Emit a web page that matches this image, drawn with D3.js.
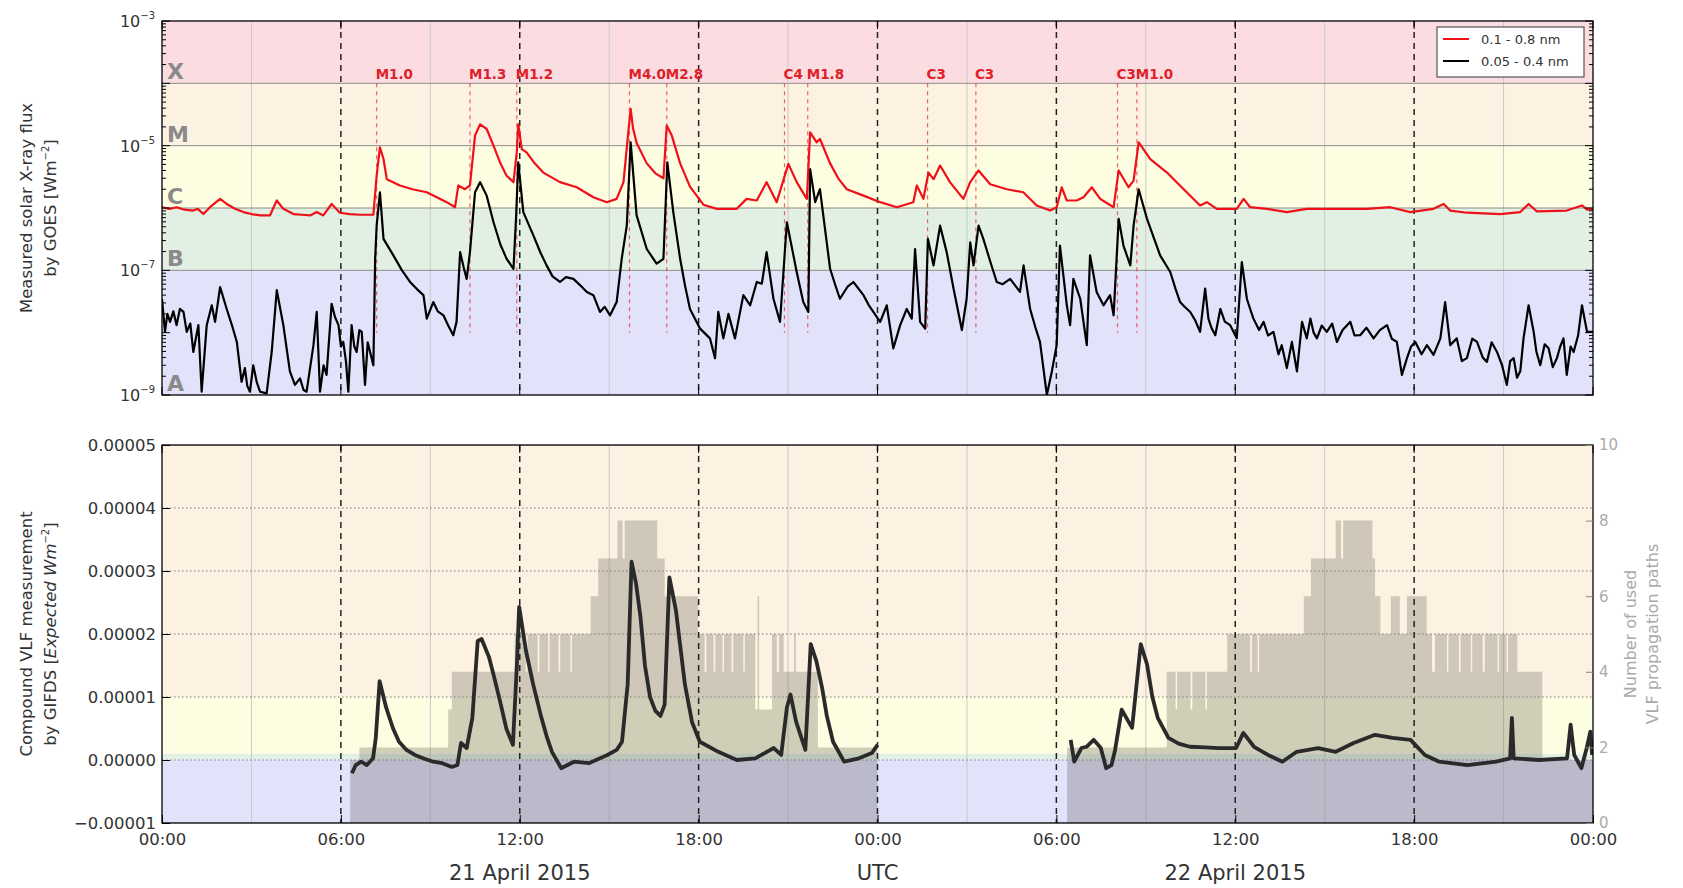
<!DOCTYPE html>
<html><head><meta charset="utf-8">
<script src="https://cdn.jsdelivr.net/npm/d3@7"></script>
<style>body{margin:0;background:#fff;} svg{display:block;} text{font-family:"DejaVu Sans",sans-serif;}</style>
</head><body><svg id="c" width="1683" height="888"></svg>
<script>
// ---------------- data ----------------
const hourTicks = [0,6,12,18,24,30,36,42,48];
const hourTickLabels = ["00:00","06:00","12:00","18:00","00:00","06:00","12:00","18:00","00:00"];
const dateLabelHours = [12,24,36];
const dateLabels = ["21 April 2015","UTC","22 April 2015"];
const gridHours = [3,9,15,21,27,33,39,45];
const dashedHours = [6,12,18,24,30,36,42];

const classNames = ["A","B","C","M","X"];
const classLower = [1e-9,1e-7,1e-6,1e-5,1e-4];
const classUpper = [1e-7,1e-6,1e-5,1e-4,1e-3];

const flareHours  = [7.2,10.33,11.9,15.68,16.93,20.88,21.66,25.68,27.3,32.05,32.7];
const flareLabels = ["M1.0","M1.3","M1.2","M4.0","M2.8","C4","M1.8","C3","C3","C3","M1.0"];

const seriesNames = ["0.1 - 0.8 nm","0.05 - 0.4 nm"];

// GOES 0.1-0.8 nm  [hour, W/m2]
const longChannel = [[0,1.03e-6],[0.25,9.7e-7],[0.49,1.03e-6],[0.75,9.4e-7],[1.05,9.1e-7],[1.2,9.7e-7],[1.39,8.0e-7],[1.61,1.03e-6],[1.95,1.40e-6],[2.17,1.16e-6],[2.45,9.7e-7],[2.73,8.6e-7],[3.0,8.0e-7],[3.29,7.6e-7],[3.62,7.6e-7],[3.85,1.32e-6],[4.07,9.7e-7],[4.41,8.0e-7],[4.7,7.8e-7],[4.97,7.6e-7],[5.19,8.6e-7],[5.41,7.6e-7],[5.69,1.16e-6],[5.97,8.4e-7],[6.3,8.0e-7],[6.64,7.8e-7],[7.09,7.8e-7],[7.2,3.3e-6],[7.31,9.4e-6],[7.43,6.1e-6],[7.54,2.9e-6],[7.98,2.3e-6],[8.4,2.0e-6],[8.88,1.79e-6],[9.2,1.5e-6],[9.55,1.24e-6],[9.83,1.03e-6],[9.94,2.3e-6],[10.16,2.0e-6],[10.33,2.3e-6],[10.5,1.45e-5],[10.67,2.2e-5],[10.89,1.85e-5],[11.12,1.0e-5],[11.35,5.2e-6],[11.56,3.3e-6],[11.79,2.6e-6],[11.9,7.8e-6],[11.95,2.2e-5],[12.07,8.8e-6],[12.23,7.8e-6],[12.5,5.2e-6],[12.79,3.7e-6],[13.35,2.6e-6],[13.91,2.15e-6],[14.47,1.49e-6],[14.92,1.24e-6],[15.25,1.40e-6],[15.48,2.6e-6],[15.64,1.63e-5],[15.72,3.9e-5],[15.8,1.9e-5],[15.92,1.1e-5],[16.26,5.2e-6],[16.55,3.6e-6],[16.82,3.0e-6],[16.93,2.1e-5],[17.1,1.45e-5],[17.38,5.2e-6],[17.71,2.2e-6],[18.16,1.13e-6],[18.61,9.7e-7],[19.28,9.7e-7],[19.61,1.40e-6],[19.95,1.32e-6],[20.28,2.6e-6],[20.62,1.24e-6],[21.01,5.1e-6],[21.29,2.6e-6],[21.63,1.40e-6],[21.74,1.63e-5],[21.96,1.13e-5],[22.07,1.28e-5],[22.41,5.2e-6],[22.7,2.9e-6],[22.97,2.0e-6],[23.53,1.58e-6],[24.09,1.24e-6],[24.65,1.03e-6],[25.2,1.24e-6],[25.32,2.3e-6],[25.54,1.40e-6],[25.71,3.7e-6],[25.88,2.9e-6],[26.1,4.8e-6],[26.43,2.6e-6],[26.88,1.40e-6],[27.11,2.6e-6],[27.39,4.0e-6],[27.78,2.4e-6],[28.34,2.0e-6],[28.89,1.79e-6],[29.34,1.10e-6],[29.79,9.1e-7],[30.01,1.03e-6],[30.18,2.15e-6],[30.35,1.32e-6],[30.68,1.32e-6],[30.91,1.49e-6],[31.19,2.15e-6],[31.47,1.40e-6],[31.92,1.03e-6],[32.09,4.0e-6],[32.42,2.15e-6],[32.59,2.75e-6],[32.76,1.13e-5],[33.15,6.1e-6],[33.71,3.7e-6],[34.27,2.0e-6],[34.82,1.10e-6],[35.05,1.24e-6],[35.38,9.7e-7],[36.05,9.7e-7],[36.28,1.40e-6],[36.5,1.03e-6],[37.06,9.7e-7],[37.73,8.6e-7],[38.4,9.7e-7],[39.3,9.7e-7],[40.42,9.7e-7],[41.2,1.03e-6],[41.87,8.6e-7],[42.65,9.7e-7],[42.99,1.16e-6],[43.21,9.1e-7],[43.77,8.4e-7],[44.89,8.0e-7],[45.56,8.6e-7],[45.84,1.16e-6],[46.12,8.8e-7],[47.12,9.1e-7],[47.63,1.10e-6],[47.8,9.4e-7],[48,9.7e-7]];

// GOES 0.05-0.4 nm  [hour, W/m2]
const shortChannel = [[0,3.5e-8],[0.10,1.03e-8],[0.18,2.0e-8],[0.27,1.49e-8],[0.38,2.2e-8],[0.49,1.32e-8],[0.6,2.4e-8],[0.72,2.15e-8],[0.83,1.03e-8],[0.95,1.4e-8],[1.05,4.9e-9],[1.22,1.32e-8],[1.33,1.13e-9],[1.5,1.32e-8],[1.67,2.75e-8],[1.78,1.49e-8],[1.95,5.4e-8],[2.17,2.4e-8],[2.35,1.3e-8],[2.51,7.1e-9],[2.67,1.63e-9],[2.78,2.7e-9],[2.86,1.4e-9],[2.95,1.13e-9],[3.06,3.0e-9],[3.18,1.6e-9],[3.29,1.13e-9],[3.51,1.06e-9],[3.68,4.9e-9],[3.85,4.8e-8],[4.07,1.32e-8],[4.29,2.4e-9],[4.46,1.45e-9],[4.63,1.85e-9],[4.75,1.2e-9],[4.85,1.13e-9],[5.08,6.3e-9],[5.19,2.15e-8],[5.3,1.13e-9],[5.42,3.0e-9],[5.52,2.1e-9],[5.69,2.9e-8],[5.8,1.8e-8],[5.92,1.32e-8],[6.0,6.0e-9],[6.08,7.1e-9],[6.17,3.5e-9],[6.25,1.13e-9],[6.36,1.32e-8],[6.45,6.0e-9],[6.53,4.9e-9],[6.62,1.1e-8],[6.7,1.03e-8],[6.81,1.45e-9],[6.9,7.0e-9],[6.98,4.9e-9],[7.09,3.0e-9],[7.15,1.53e-7],[7.2,5.2e-7],[7.31,1.79e-6],[7.43,3.2e-7],[7.76,1.74e-7],[8.05,1.0e-7],[8.32,6.5e-8],[8.55,5.0e-8],[8.77,4.0e-8],[8.88,1.68e-8],[9.1,3.1e-8],[9.25,2.2e-8],[9.44,1.9e-8],[9.6,1.3e-8],[9.77,9.1e-9],[9.88,1.49e-8],[10.0,1.96e-7],[10.13,1.06e-7],[10.22,7.3e-8],[10.33,1.96e-7],[10.5,1.79e-6],[10.67,2.6e-6],[10.89,1.58e-6],[11.12,5.9e-7],[11.35,2.6e-7],[11.56,1.53e-7],[11.79,1.06e-7],[11.88,7.6e-7],[11.95,5.4e-6],[12.12,8.6e-7],[12.46,3.6e-7],[12.7,1.9e-7],[12.9,1.2e-7],[13.1,8.0e-8],[13.35,6.5e-8],[13.55,7.8e-8],[13.8,7.3e-8],[14.02,5.8e-8],[14.25,4.5e-8],[14.47,4.0e-8],[14.69,2.15e-8],[14.85,2.6e-8],[15.03,1.9e-8],[15.25,3.1e-8],[15.42,1.53e-7],[15.59,5.2e-7],[15.72,1.13e-5],[15.92,7.6e-7],[16.26,2.2e-7],[16.59,1.28e-7],[16.82,1.53e-7],[16.95,5.4e-6],[17.15,8.6e-7],[17.38,1.53e-7],[17.55,5.5e-8],[17.71,2.4e-8],[18.05,1.16e-8],[18.38,8.1e-9],[18.55,3.9e-9],[18.66,2.15e-8],[18.83,8.1e-9],[19.0,2.0e-8],[19.22,8.1e-9],[19.5,4.0e-8],[19.73,2.75e-8],[19.95,6.5e-8],[20.12,6.1e-8],[20.28,1.96e-7],[20.51,3.5e-8],[20.73,1.49e-8],[20.96,5.9e-7],[21.29,9.4e-8],[21.51,3.1e-8],[21.68,2.15e-8],[21.74,4.2e-6],[21.91,1.24e-6],[22.07,2.0e-6],[22.41,1.06e-7],[22.6,5.5e-8],[22.74,3.5e-8],[23.0,5.5e-8],[23.19,6.5e-8],[23.53,4.0e-8],[23.7,2.8e-8],[23.86,2.15e-8],[24.09,1.49e-8],[24.31,2.75e-8],[24.53,5.6e-9],[24.76,1.32e-8],[24.98,2.4e-8],[25.15,1.68e-8],[25.26,2.2e-7],[25.43,1.49e-8],[25.6,1.16e-8],[25.69,3.2e-7],[25.88,1.2e-7],[26.1,5.2e-7],[26.32,1.96e-7],[26.55,5.1e-8],[26.83,1.1e-8],[26.99,3.5e-8],[27.11,2.8e-7],[27.22,1.2e-7],[27.39,5.2e-7],[27.55,3.2e-7],[27.8,1.3e-7],[28.0,6.5e-8],[28.2,6.0e-8],[28.45,7.3e-8],[28.78,4.5e-8],[28.9,1.2e-7],[29.12,2.4e-8],[29.3,1.2e-8],[29.45,7.1e-9],[29.68,1.0e-9],[29.85,2.4e-9],[30.01,6.3e-9],[30.12,2.5e-7],[30.35,2.75e-8],[30.46,1.32e-8],[30.57,7.3e-8],[30.8,3.5e-8],[31.02,6.3e-9],[31.13,1.74e-7],[31.35,4.5e-8],[31.58,2.75e-8],[31.8,4.0e-8],[31.92,1.9e-8],[32.09,6.7e-7],[32.25,2.5e-7],[32.48,1.2e-7],[32.59,5.2e-7],[32.76,2.0e-6],[33.04,6.7e-7],[33.48,1.74e-7],[33.82,9.4e-8],[34.0,5.0e-8],[34.15,3.1e-8],[34.3,2.6e-8],[34.49,2.15e-8],[34.65,1.6e-8],[34.82,1.03e-8],[34.99,5.1e-8],[35.1,1.68e-8],[35.2,1.2e-8],[35.33,9.1e-9],[35.5,2.4e-8],[35.65,1.5e-8],[35.83,1.32e-8],[36.05,8.1e-9],[36.22,1.36e-7],[36.39,3.5e-8],[36.5,2.4e-8],[36.61,1.68e-8],[36.8,1.1e-8],[36.95,1.49e-8],[37.1,9.0e-9],[37.28,1.03e-8],[37.45,4.5e-9],[37.56,6.3e-9],[37.73,2.7e-9],[37.9,7.1e-9],[38.07,2.4e-9],[38.24,1.49e-8],[38.4,8.1e-9],[38.52,1.68e-8],[38.63,1.0e-8],[38.74,8.1e-9],[38.9,1.3e-8],[39.07,1.03e-8],[39.25,1.4e-8],[39.41,7.1e-9],[39.6,1.1e-8],[39.86,1.49e-8],[40.0,9.0e-9],[40.19,9.1e-9],[40.4,1.2e-8],[40.64,8.1e-9],[40.85,1.1e-8],[41.09,1.32e-8],[41.25,8.0e-9],[41.42,7.1e-9],[41.59,2.1e-9],[41.76,3.9e-9],[41.9,6.0e-9],[42.04,7.1e-9],[42.25,4.5e-9],[42.43,6.3e-9],[42.65,4.4e-9],[42.88,8.1e-9],[43.04,3.1e-8],[43.21,6.3e-9],[43.43,8.1e-9],[43.6,3.5e-9],[43.77,3.9e-9],[43.95,8.0e-9],[44.11,7.1e-9],[44.3,4.0e-9],[44.44,3.4e-9],[44.6,7.0e-9],[44.78,4.9e-9],[44.95,3.0e-9],[45.11,1.45e-9],[45.22,3.5e-9],[45.34,3.9e-9],[45.45,1.9e-9],[45.56,2.4e-9],[45.67,8.1e-9],[45.84,2.75e-8],[46.01,1.03e-8],[46.1,5.0e-9],[46.23,3.0e-9],[46.38,6.5e-9],[46.51,5.6e-9],[46.65,2.8e-9],[46.79,3.9e-9],[46.9,6.0e-9],[47.01,8.1e-9],[47.12,2.1e-9],[47.25,6.0e-9],[47.35,4.9e-9],[47.5,9.0e-9],[47.63,2.75e-8],[47.8,1.03e-8],[48,1.03e-8]];

// GIFDS compound VLF measurement [hour, expected W/m2] (null = gap)
const vlfChannel = [[6.37,-2.1e-6],[6.5,-8e-7],[6.68,-2.7e-7],[6.87,-8e-7],[7.08,2.7e-7],[7.17,3.5e-6],[7.3,1.25e-5],[7.52,8.3e-6],[7.75,5.0e-6],[7.95,2.9e-6],[8.2,1.6e-6],[8.48,8e-7],[8.8,2.0e-7],[9.1,-2.7e-7],[9.4,-5e-7],[9.72,-1.1e-6],[9.91,-8e-7],[10.03,2.7e-6],[10.22,1.9e-6],[10.41,6.7e-6],[10.59,1.89e-5],[10.72,1.92e-5],[10.97,1.63e-5],[11.15,1.3e-5],[11.34,9.3e-6],[11.55,5.0e-6],[11.77,2.4e-6],[11.9,1.47e-5],[11.98,2.43e-5],[12.21,1.73e-5],[12.45,1.2e-5],[12.7,7.2e-6],[12.9,3.8e-6],[13.08,1.3e-6],[13.39,-1.3e-6],[13.82,-2.7e-7],[14.32,-5e-7],[14.94,8e-7],[15.25,1.6e-6],[15.43,2.9e-6],[15.62,1.2e-5],[15.75,3.15e-5],[15.9,2.8e-5],[16.05,2.27e-5],[16.2,1.5e-5],[16.37,1.0e-5],[16.55,7.8e-6],[16.72,7.0e-6],[16.86,8.8e-6],[17.02,2.9e-5],[17.24,2.37e-5],[17.54,1.2e-5],[17.78,6.0e-6],[18.04,2.9e-6],[18.66,1.3e-6],[19.28,0],[19.9,2.7e-7],[20.52,1.9e-6],[20.77,8e-7],[20.96,8.3e-6],[21.08,1.04e-5],[21.27,6.1e-6],[21.58,1.6e-6],[21.76,1.84e-5],[21.95,1.57e-5],[22.14,1.15e-5],[22.3,7.0e-6],[22.51,2.9e-6],[22.88,-2.7e-7],[23.38,2.7e-7],[23.81,1.1e-6],[24.0,2.4e-6],[24.0,null],
[30.48,3.2e-6],[30.6,-2.7e-7],[30.84,1.9e-6],[31.01,2.1e-6],[31.25,3.2e-6],[31.49,1.9e-6],[31.67,-1.3e-6],[31.85,-8e-7],[31.97,1.6e-6],[32.19,8e-6],[32.54,5.1e-6],[32.83,1.84e-5],[33.04,1.52e-5],[33.22,1.0e-5],[33.4,6.7e-6],[33.76,3.5e-6],[34.1,2.6e-6],[34.48,2.1e-6],[35.0,2.0e-6],[35.43,1.9e-6],[36.03,1.9e-6],[36.27,4.3e-6],[36.63,2.1e-6],[37.1,8e-7],[37.58,-2.7e-7],[38.06,1.3e-6],[38.78,1.9e-6],[39.37,1.3e-6],[39.97,2.7e-6],[40.69,4e-6],[41.28,3.5e-6],[41.88,3.2e-6],[42.36,8e-7],[42.84,-2.7e-7],[43.79,-8e-7],[44.75,-2.7e-7],[45.22,2.7e-7],[45.28,6.7e-6],[45.34,2.7e-7],[46.18,0],[47.13,2.7e-7],[47.25,5.6e-6],[47.37,8e-7],[47.61,-1.3e-6],[47.79,1.9e-6],[47.91,4.5e-6],[47.97,8e-7]];

// number of used VLF propagation paths [hour, count] (step, null = gap)
const pathCount = [[6.62,2],[9.6,3],[9.72,4],[11.83,5],[12.2,4],[12.26,5],[12.6,4],[12.66,5],[12.95,4],[13.0,5],[13.3,4],[13.36,5],[13.7,4],[13.75,5],[14.38,6],[14.63,7],[15.28,8],[15.45,7],[15.52,8],[16.61,7],[16.86,6],[17.98,5],[18.2,4],[18.26,5],[18.5,4],[18.56,5],[18.8,4],[18.85,5],[19.1,4],[19.16,5],[19.5,4],[19.55,5],[19.9,3],[19.98,6],[20.03,3],[20.46,5],[20.62,4],[20.7,5],[20.85,4],[21.2,5],[21.26,4],[22.0,2],[24.0,2],[24.0,null],
[30.36,2],[33.7,4],[34.0,3],[34.05,4],[34.5,3],[34.56,4],[35.0,3],[35.05,4],[35.73,5],[36.5,4],[36.56,5],[36.75,4],[36.8,5],[38.3,6],[38.54,7],[39.37,8],[39.55,7],[39.62,8],[40.6,7],[40.69,6],[40.87,5],[41.22,6],[41.52,5],[41.76,6],[42.42,5],[42.6,4],[42.7,5],[43.1,4],[43.15,5],[43.5,4],[43.56,5],[43.9,4],[43.95,5],[44.3,4],[44.37,5],[44.8,4],[44.85,5],[45.1,4],[45.15,5],[45.46,4],[46.3,4],[46.3,null]];

// periods with VLF data available [start hour, end hour]
const vlfAvailable = [[6.31,24.0],[30.36,48.0]];

const vlfTicks = [-1e-5,0,1e-5,2e-5,3e-5,4e-5,5e-5];
const countTicks = [0,2,4,6,8,10];

// ---------------- styles ----------------
const classColorsTop = ["#e2e2fa","#e1f0e3","#fdfde1","#fdf1e1","#fbdde1"];
const FONT = '"DejaVu Sans", sans-serif';

// ---------------- drawing ----------------
const svg = d3.select("#c");
const L = 162, R = 1593, T1 = 21, B1 = 395, T2 = 445, B2 = 823;
const x = d3.scaleLinear().domain([0,48]).range([L,R]);
const yTop = d3.scaleLog().domain([1e-9,1e-3]).range([B1,T1]);
const yBot = d3.scaleLinear().domain([-1e-5,5e-5]).range([B2,T2]).clamp(true);
const yCnt = d3.scaleLinear().domain([0,10]).range([B2,T2]);

const defs = svg.append("defs");
defs.append("clipPath").attr("id","clipTop").append("rect").attr("x",L).attr("y",T1).attr("width",R-L).attr("height",B1-T1);
defs.append("clipPath").attr("id","clipBot").append("rect").attr("x",L).attr("y",T2).attr("width",R-L).attr("height",B2-T2);

// ===== TOP PANEL =====
const gT = svg.append("g").attr("clip-path","url(#clipTop)");
gT.selectAll("rect.band").data(d3.range(5)).join("rect").attr("class","band")
  .attr("x",L).attr("width",R-L)
  .attr("y",i=>yTop(classUpper[i])).attr("height",i=>yTop(classLower[i])-yTop(classUpper[i]))
  .attr("fill",i=>classColorsTop[i]);
gT.selectAll("line.vg").data(gridHours).join("line").attr("class","vg")
  .attr("x1",d=>x(d)).attr("x2",d=>x(d)).attr("y1",T1).attr("y2",B1)
  .attr("stroke","#c9c9c9").attr("stroke-width",1);
gT.selectAll("line.hb").data(classLower.slice(1)).join("line").attr("class","hb")
  .attr("x1",L).attr("x2",R).attr("y1",d=>yTop(d)).attr("y2",d=>yTop(d))
  .attr("stroke","#8c8c8c").attr("stroke-width",1);
gT.selectAll("line.dh").data(dashedHours).join("line").attr("class","dh")
  .attr("x1",d=>x(d)).attr("x2",d=>x(d)).attr("y1",T1).attr("y2",B1)
  .attr("stroke","#222").attr("stroke-width",1.5).attr("stroke-dasharray","6,5");
gT.selectAll("line.fl").data(flareHours).join("line").attr("class","fl")
  .attr("x1",d=>x(d)).attr("x2",d=>x(d)).attr("y1",yTop(1e-4)).attr("y2",yTop(1e-8))
  .attr("stroke","#e8303a").attr("stroke-opacity",0.75).attr("stroke-width",1.2).attr("stroke-dasharray","4,4");
gT.selectAll("text.cl").data(d3.range(5)).join("text").attr("class","cl")
  .attr("x",L+5).attr("y",i=>yTop(classLower[i])-4)
  .attr("font-size",22).attr("font-weight","bold").attr("fill","#8a8a8a").text(i=>classNames[i]);

const lineTop = d3.line().x(d=>x(d[0])).y(d=>yTop(d[1]));
gT.append("path").datum(shortChannel).attr("d",lineTop).attr("fill","none").attr("stroke","#000").attr("stroke-width",2.2).attr("stroke-linejoin","round");
gT.append("path").datum(longChannel).attr("d",lineTop).attr("fill","none").attr("stroke","#f0101a").attr("stroke-width",2.2).attr("stroke-linejoin","round");

svg.append("g").selectAll("text.fll").data(flareHours).join("text").attr("class","fll")
  .attr("x",d=>x(d)-1).attr("y",yTop(1e-4)-4)
  .attr("font-size",13.5).attr("font-weight","bold").attr("fill","#e0202a")
  .text((d,i)=>flareLabels[i]);

// legend
const lg = svg.append("g");
lg.append("rect").attr("x",1437).attr("y",27).attr("width",147).attr("height",50).attr("fill","#fff").attr("stroke","#555").attr("stroke-width",1.2);
[["#f0101a",39],["#000",61]].forEach((s,i)=>{
  lg.append("line").attr("x1",1443).attr("x2",1469).attr("y1",s[1]).attr("y2",s[1]).attr("stroke",s[0]).attr("stroke-width",2);
  lg.append("text").attr("x",1481).attr("y",s[1]+5).attr("font-size",13).attr("fill","#333").text(seriesNames[i]);
});

// top axes
const majorDec = d3.range(-9,-2).map(e=>Math.pow(10,e));
const minorDec = [];
d3.range(-9,-3).forEach(e=>{for(let m=2;m<=9;m++) minorDec.push(m*Math.pow(10,e));});
function frameTicks(g, sc, vals, len, side){
  g.selectAll(null).data(vals).join("line")
    .attr("x1", side==="l"?L:R).attr("x2", side==="l"?L+len:R-len)
    .attr("y1",d=>sc(d)).attr("y2",d=>sc(d)).attr("stroke","#000").attr("stroke-width",1);
}
const axT = svg.append("g");
frameTicks(axT,yTop,majorDec,8,"l"); frameTicks(axT,yTop,majorDec,8,"r");
frameTicks(axT,yTop,minorDec,4,"l"); frameTicks(axT,yTop,minorDec,4,"r");
axT.selectAll("line.xt").data(hourTicks).join("line").attr("class","xt")
  .attr("x1",d=>x(d)).attr("x2",d=>x(d)).attr("y1",B1).attr("y2",B1-8).attr("stroke","#000");
axT.selectAll("line.xt2").data(hourTicks).join("line").attr("class","xt2")
  .attr("x1",d=>x(d)).attr("x2",d=>x(d)).attr("y1",T1).attr("y2",T1+8).attr("stroke","#000");
const labDec = [-3,-5,-7,-9];
labDec.forEach(e=>{
  const t = axT.append("text").attr("x",L-7).attr("y",yTop(Math.pow(10,e))+6).attr("text-anchor","end").attr("fill","#333");
  t.append("tspan").attr("font-size",16).text("10");
  t.append("tspan").attr("font-size",10).attr("dy",-8).text("\u2212"+Math.abs(e));
});
svg.append("rect").attr("x",L).attr("y",T1).attr("width",R-L).attr("height",B1-T1).attr("fill","none").attr("stroke","#000").attr("stroke-width",1.3);

const tt = svg.append("g").attr("transform",`translate(32,${(T1+B1)/2}) rotate(-90)`);
tt.append("text").attr("text-anchor","middle").attr("font-size",16.5).attr("fill","#333").text("Measured solar X-ray flux");
const tt2 = svg.append("g").attr("transform",`translate(56,${(T1+B1)/2}) rotate(-90)`).append("text").attr("text-anchor","middle").attr("font-size",16.5).attr("fill","#333");
tt2.append("tspan").text("by GOES [Wm");
tt2.append("tspan").attr("font-size",10).attr("dy",-7).text("\u22122");
tt2.append("tspan").attr("dy",7).text("]");

// ===== BOTTOM PANEL =====
const gB = svg.append("g").attr("clip-path","url(#clipBot)");
gB.selectAll("rect.band").data(d3.range(5)).join("rect").attr("class","band")
  .attr("x",L).attr("width",R-L)
  .attr("y",i=>yBot(classUpper[i]))
  .attr("height",i=>(i===0?yBot(-1):yBot(classLower[i]))-yBot(classUpper[i]))
  .attr("fill",i=>classColorsTop[i]);
gB.selectAll("line.vg").data(gridHours).join("line").attr("class","vg")
  .attr("x1",d=>x(d)).attr("x2",d=>x(d)).attr("y1",T2).attr("y2",B2)
  .attr("stroke","#c9c9c9").attr("stroke-width",1);
gB.selectAll("rect.av").data(vlfAvailable).join("rect").attr("class","av")
  .attr("x",d=>x(d[0])).attr("width",d=>x(d[1])-x(d[0]))
  .attr("y",yBot(0)).attr("height",B2-yBot(0))
  .attr("fill","#6a6a6a").attr("fill-opacity",0.33);
const cntArea = d3.area().defined(d=>d[1]!==null).curve(d3.curveStepAfter)
  .x(d=>x(d[0])).y0(yBot(0)).y1(d=>yCnt(d[1]));
gB.append("path").datum(pathCount).attr("d",cntArea).attr("fill","#77776d").attr("fill-opacity",0.35);
gB.selectAll("line.hg").data(vlfTicks).join("line").attr("class","hg")
  .attr("x1",L).attr("x2",R).attr("y1",d=>yBot(d)).attr("y2",d=>yBot(d))
  .attr("stroke","#777").attr("stroke-width",1).attr("stroke-dasharray","1.5,2.5");
gB.selectAll("line.dh").data(dashedHours).join("line").attr("class","dh")
  .attr("x1",d=>x(d)).attr("x2",d=>x(d)).attr("y1",T2).attr("y2",B2)
  .attr("stroke","#222").attr("stroke-width",1.5).attr("stroke-dasharray","6,5");
const vlfLine = d3.line().defined(d=>d[1]!==null).x(d=>x(d[0])).y(d=>yBot(d[1]));
gB.append("path").datum(vlfChannel).attr("d",vlfLine).attr("fill","none").attr("stroke","#2a2a2a").attr("stroke-width",3.8).attr("stroke-linejoin","round");

svg.append("rect").attr("x",L).attr("y",T2).attr("width",R-L).attr("height",B2-T2).attr("fill","none").attr("stroke","#000").attr("stroke-width",1.3);

const axL = d3.axisLeft(yBot).tickValues(vlfTicks).tickFormat(d3.format(".5f")).tickSizeInner(-8).tickSizeOuter(0).tickPadding(6);
const gl = svg.append("g").attr("transform",`translate(${L},0)`).call(axL);
gl.select(".domain").remove();
gl.selectAll("text").attr("font-size",16.5).attr("fill","#333").attr("font-family",FONT);
const axR = d3.axisRight(yCnt).tickValues(countTicks).tickFormat(d3.format("d")).tickSizeInner(-7).tickSizeOuter(0).tickPadding(6);
const gr = svg.append("g").attr("transform",`translate(${R},0)`).call(axR);
gr.select(".domain").remove();
gr.selectAll("line").attr("stroke","#888");
gr.selectAll("text").attr("font-size",15).attr("fill","#aaa").attr("font-family",FONT);
const axB = d3.axisBottom(x).tickValues(hourTicks).tickFormat((d,i)=>hourTickLabels[i]).tickSizeInner(-8).tickSizeOuter(0).tickPadding(10);
const gb = svg.append("g").attr("transform",`translate(0,${B2})`).call(axB);
gb.select(".domain").remove();
gb.selectAll("text").attr("font-size",16.5).attr("fill","#333").attr("font-family",FONT);
svg.append("g").selectAll("line").data(hourTicks).join("line")
  .attr("x1",d=>x(d)).attr("x2",d=>x(d)).attr("y1",T2).attr("y2",T2+8).attr("stroke","#000");
svg.append("g").selectAll("text").data(dateLabelHours).join("text")
  .attr("x",d=>x(d)).attr("y",880).attr("text-anchor","middle").attr("font-size",21).attr("fill","#333")
  .text((d,i)=>dateLabels[i]);

const bt = svg.append("g").attr("transform",`translate(32,${(T2+B2)/2}) rotate(-90)`);
bt.append("text").attr("text-anchor","middle").attr("font-size",16.5).attr("fill","#333").text("Compound VLF measurement");
const bt2 = svg.append("g").attr("transform",`translate(56,${(T2+B2)/2}) rotate(-90)`).append("text").attr("text-anchor","middle").attr("font-size",16.5).attr("fill","#333");
bt2.append("tspan").text("by GIFDS [");
bt2.append("tspan").attr("font-style","italic").text("Expected Wm");
bt2.append("tspan").attr("font-size",10).attr("dy",-7).text("\u22122");
bt2.append("tspan").attr("dy",7).text("]");
svg.append("g").attr("transform",`translate(1636,${(T2+B2)/2}) rotate(-90)`)
  .append("text").attr("text-anchor","middle").attr("font-size",16).attr("fill","#aaa").text("Number of used");
svg.append("g").attr("transform",`translate(1658,${(T2+B2)/2}) rotate(-90)`)
  .append("text").attr("text-anchor","middle").attr("font-size",16).attr("fill","#aaa").text("VLF propagation paths");
</script></body></html>
